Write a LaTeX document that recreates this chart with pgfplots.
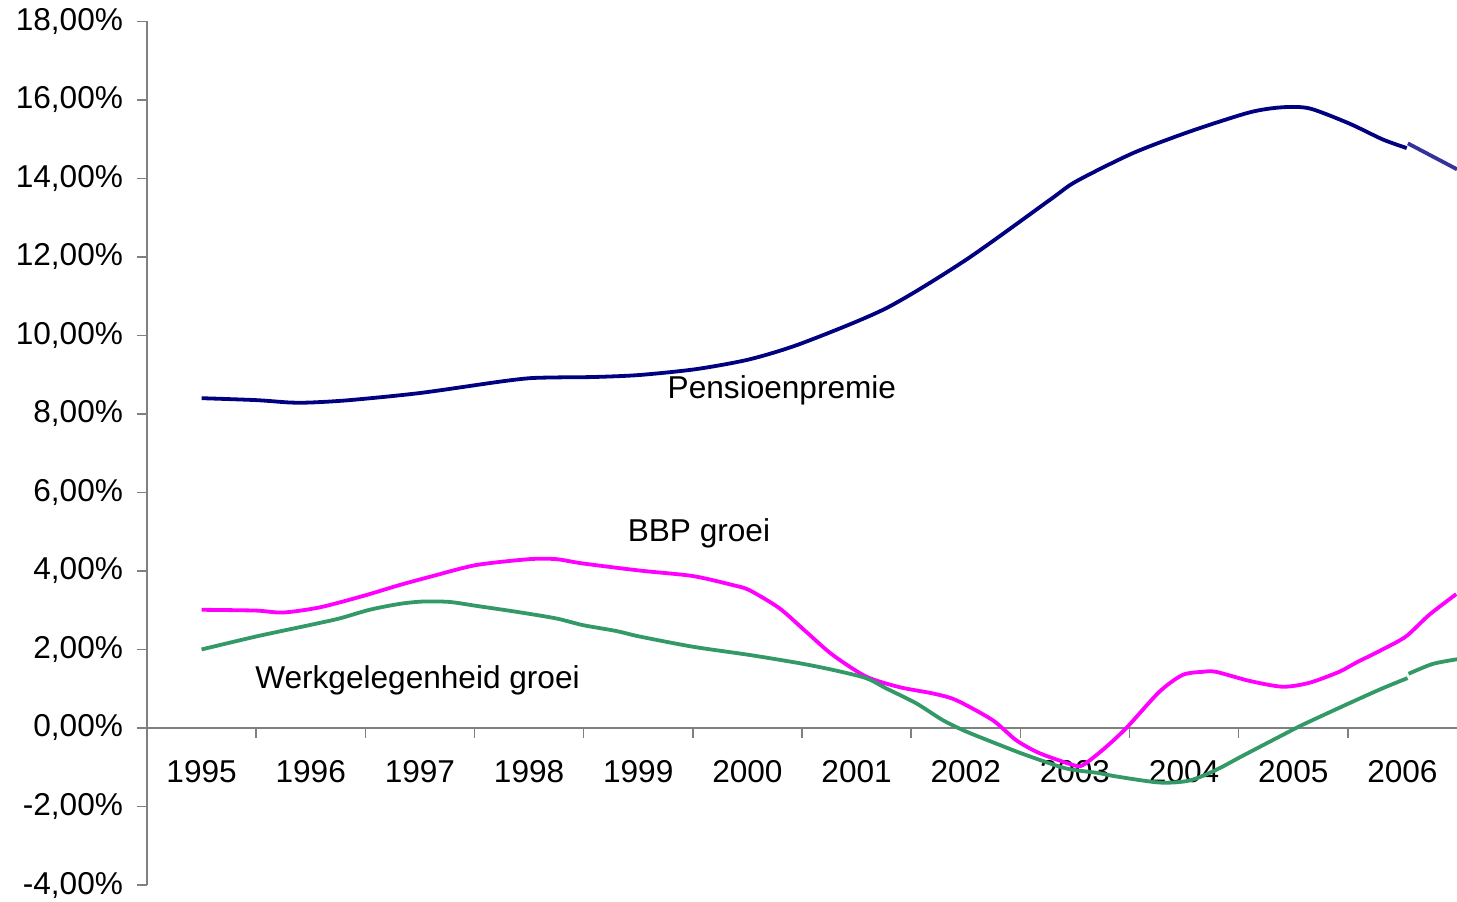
\documentclass[border=0pt]{standalone}
\usepackage{fontspec}
\setmainfont{Liberation Sans}
\usepackage{pgfplots}
\pgfplotsset{compat=1.18}
\definecolor{navy}{RGB}{0,0,128}
\definecolor{navylight}{RGB}{51,51,153}
\definecolor{mag}{RGB}{255,0,255}
\definecolor{sea}{RGB}{51,153,102}
\definecolor{axgray}{RGB}{128,128,128}
\newcommand{\lblfont}{\fontsize{15.8bp}{18bp}\selectfont}
\begin{document}
\begin{tikzpicture}
\begin{axis}[
  at={(0,0)}, anchor=south west,
  scale only axis, width=655bp, height=431.85bp,
  xmin=-0.5, xmax=11.5, ymin=-4, ymax=18,
  axis y line*=left, axis x line*=middle,
  axis line style={draw=axgray, line width=0.75bp},
  every tick/.style={draw=axgray, line width=0.75bp},
  tick align=outside,
  major tick length=5bp,
  ytick={-4,-2,...,18},
  yticklabel={\pgfmathprintnumber[fixed,fixed zerofill,precision=2,use comma,assume math mode=true]{\tick}\%},
  yticklabel style={font=\lblfont, xshift=-3.5bp},
  xtick={0.5,1.5,...,10.5},
  xticklabels={},
  extra x ticks={0,1,...,11},
  extra x tick labels={1995,1996,1997,1998,1999,2000,2001,2002,2003,2004,2005,2006},
  extra x tick style={major tick length=0pt, xticklabel style={font=\lblfont, anchor=center, yshift=-22bp}},
  clip=false,
  every axis plot/.append style={line width=1.9bp, line join=round, smooth, tension=0.45},
]
% Pensioenpremie
\addplot[navy] coordinates {
(0,8.40) (0.504,8.35) (0.806,8.29) (1.0,8.29) (1.355,8.35) (1.996,8.53) (2.729,8.82)
(3.01,8.91) (3.28,8.93) (3.6,8.94) (4.01,8.99) (4.53,9.14) (5.02,9.39) (5.50,9.80)
(6.27,10.69) (7.0,11.92) (7.77,13.45) (8.01,13.92) (8.53,14.64) (9.05,15.19)
(9.60,15.68) (9.90,15.81) (10.15,15.78) (10.51,15.40) (10.82,14.99) (11.04,14.77)
};
\addplot[navylight] coordinates {(11.05,14.89) (11.5,14.23)};
% BBP groei
\addplot[mag] coordinates {
(0,3.01) (0.50,2.99) (0.745,2.94) (1.08,3.07) (1.477,3.36) (1.813,3.64) (2.118,3.87)
(2.516,4.15) (3.004,4.30) (3.248,4.30) (3.492,4.19) (4.011,4.01) (4.499,3.87)
(4.865,3.64) (5.018,3.51) (5.293,3.05) (5.538,2.45) (5.781,1.86) (6.087,1.31)
(6.392,1.04) (6.697,0.88) (6.911,0.71) (7.246,0.20) (7.461,-0.31) (7.674,-0.64)
(7.979,-0.94) (8.07,-0.95) (8.254,-0.56) (8.468,-0.01) (8.773,0.92) (8.986,1.35)
(9.17,1.43) (9.292,1.43) (9.597,1.20) (9.902,1.05) (10.147,1.15) (10.421,1.43)
(10.574,1.66) (10.818,2.00) (11.032,2.33) (11.245,2.88) (11.493,3.41)
};
% Werkgelegenheid groei
\addplot[sea] coordinates {
(0,2.00) (0.50,2.33) (0.989,2.62) (1.264,2.79) (1.538,3.01) (1.813,3.16) (2.027,3.22)
(2.271,3.21) (2.516,3.11) (2.882,2.96) (3.248,2.79) (3.492,2.62) (3.798,2.47)
(4.011,2.33) (4.499,2.07) (5.018,1.86) (5.476,1.65) (5.781,1.48) (6.087,1.27)
(6.27,1.01) (6.545,0.63) (6.789,0.20) (7.003,-0.09) (7.308,-0.43) (7.552,-0.69)
(7.918,-1.03) (8.223,-1.15) (8.345,-1.22) (8.773,-1.39) (9.048,-1.34) (9.292,-1.07)
(9.536,-0.71) (9.902,-0.18) (10.085,0.08) (10.513,0.63) (10.818,1.01) (11.047,1.27)
};
\addplot[sea] coordinates {(11.056,1.38) (11.276,1.63) (11.5,1.75)};
\node[font=\lblfont] at (axis cs:5.316,8.61) {Pensioenpremie};
\node[font=\lblfont] at (axis cs:4.556,4.97) {BBP groei};
\node[font=\lblfont] at (axis cs:1.978,1.22) {Werkgelegenheid groei};
\end{axis}
\pgfresetboundingbox
\path (-73.5bp,-8.5bp) rectangle (655bp,442.5bp);
\end{tikzpicture}
\end{document}
